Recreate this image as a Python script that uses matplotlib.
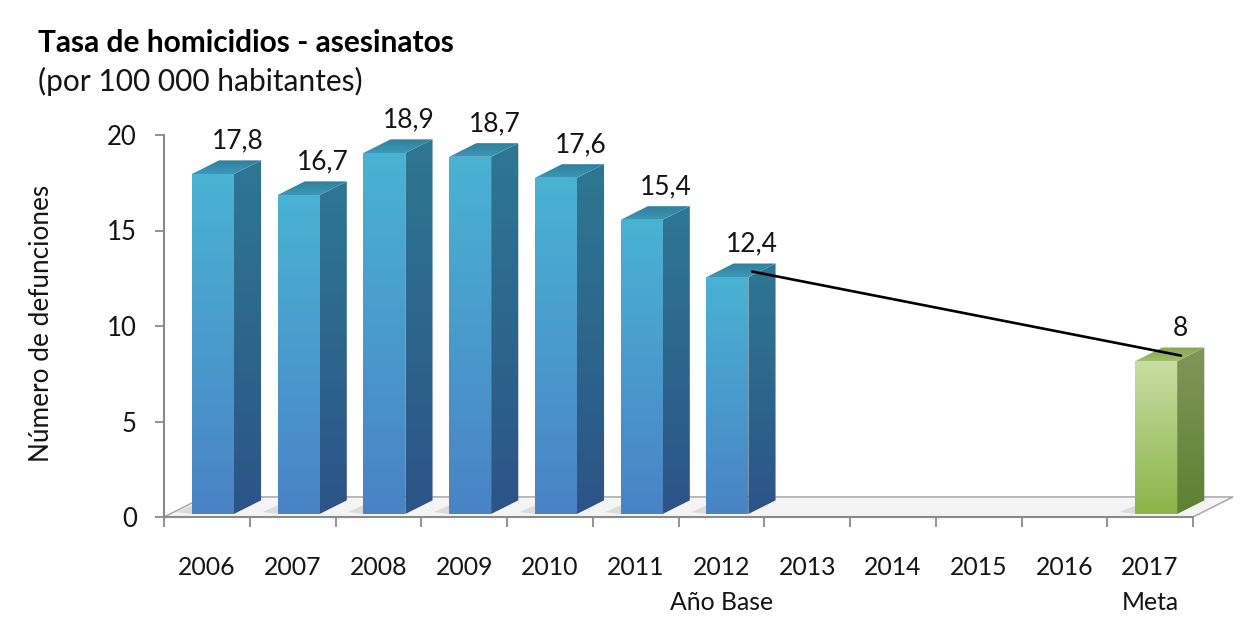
import numpy as np
import matplotlib
matplotlib.use('Agg')
import matplotlib.pyplot as plt
from matplotlib.patches import Polygon
from matplotlib.colors import to_rgb

# ---------------- data ----------------
years = ['2006', '2007', '2008', '2009', '2010', '2011', '2012',
         '2013', '2014', '2015', '2016', '2017']
year_notes = ['', '', '', '', '', '', 'Año Base', '', '', '', '', 'Meta']
rates = [17.8, 16.7, 18.9, 18.7, 17.6, 15.4, 12.4,
         np.nan, np.nan, np.nan, np.nan, 8.0]
rate_labels = ['17,8', '16,7', '18,9', '18,7', '17,6', '15,4', '12,4',
               '', '', '', '', '8']
is_goal = [False] * 11 + [True]
yticks = [0, 5, 10, 15, 20]
title = 'Tasa de homicidios - asesinatos'
subtitle = '(por 100 000 habitantes)'
ylabel = 'Número de defunciones'
base_year, goal_year = '2012', '2017'

# ---------------- style ----------------
plt.rcParams['font.family'] = ['Lato', 'DejaVu Sans']
TXT = '#141414'
AXC = '#8a8a8a'
W, H = 1241, 641
fig = plt.figure(figsize=(W / 100, H / 100), dpi=100)

x_left_px, cat_px, y0_px, val_px = 164, 85.75, 517, 19.1
xlim = (-0.5, 12.0)
ylim = (0, 20.6)
ax = fig.add_axes([x_left_px / W, (H - y0_px) / H,
                   (xlim[1] - xlim[0]) * cat_px / W,
                   (ylim[1] - ylim[0]) * val_px / H])
ax.set_facecolor('none')

# 3D depth (in data units)
DX, DY = 0.466, 1.05
f0, f1 = 0.15, 0.83
bar_w = 0.49

blue = dict(front=('#4AB2D3', '#4983C6'), side=('#2E7793', '#2C5487'),
            top=('#3D98B8', '#2F7F9D'))
green = dict(front=('#C8DDA2', '#8BB449'), side=('#80965A', '#5E8131'),
             top=('#A2BE6A', '#88A452'))


def grad_face(verts, c_a, c_b, z, horiz=False):
    poly = Polygon(verts, closed=True, facecolor='none', edgecolor='none')
    ax.add_patch(poly)
    xs = [v[0] for v in verts]
    ys = [v[1] for v in verts]
    t = np.linspace(0, 1, 64)
    ca, cb = np.array(to_rgb(c_a)), np.array(to_rgb(c_b))
    col = cb + (ca - cb) * t[:, None]   # t=0 -> c_b (bottom/left)
    if horiz:
        img = col[None, :, :].repeat(2, axis=0)
    else:
        img = col[:, None, :].repeat(2, axis=1)
    im = ax.imshow(img, extent=(min(xs), max(xs), min(ys), max(ys)),
                   origin='lower', aspect='auto', interpolation='bilinear',
                   zorder=z)
    im.set_clip_path(poly)


# floor
n = len(years)
floor = Polygon([(-0.5, 0), (n - 0.5, 0), (n - 0.5 + DX, DY), (-0.5 + DX, DY)],
                closed=True, facecolor='#f4f4f4', edgecolor='#a8a8a8',
                linewidth=1.1, zorder=1)
ax.add_patch(floor)

ddx, ddy = (f1 - f0) * DX, (f1 - f0) * DY
for i, v in enumerate(rates):
    if np.isnan(v):
        continue
    pal = green if is_goal[i] else blue
    xl = i + f0 * DX - bar_w / 2
    xr = xl + bar_w
    yb = f0 * DY
    yt = v + f0 * DY
    # soft shadow on floor
    sh = Polygon([(xl - 0.18, yb + 0.1), (xl, yb), (xr + ddx, yb + ddy),
                  (xl - 0.18 + ddx, yb + ddy)], closed=True,
                 facecolor='#c8c8c8', edgecolor='none', alpha=0.55, zorder=2)
    ax.add_patch(sh)
    grad_face([(xl, yb), (xr, yb), (xr, yt), (xl, yt)],
              pal['front'][0], pal['front'][1], 3)
    grad_face([(xr, yb), (xr + ddx, yb + ddy), (xr + ddx, yt + ddy), (xr, yt)],
              pal['side'][0], pal['side'][1], 3)
    grad_face([(xl, yt), (xr, yt), (xr + ddx, yt + ddy), (xl + ddx, yt + ddy)],
              pal['top'][1], pal['top'][0], 3)
    ax.text(i + f0 * DX + 0.9 * ddx, yt + ddy + 0.62, rate_labels[i],
            ha='center', va='baseline', fontsize=19, color=TXT, zorder=6)

# trend line from base year to goal
ib, ig = years.index(base_year), years.index(goal_year)
LDX, LDY = 0.36, 0.45
ax.plot([ib + LDX, ig + LDX], [rates[ib] + LDY, rates[ig] + LDY],
        color='black', linewidth=1.9, zorder=5, solid_capstyle='round')

# axes
for s in ['top', 'right']:
    ax.spines[s].set_visible(False)
for s in ['left', 'bottom']:
    ax.spines[s].set_color(AXC)
    ax.spines[s].set_linewidth(1.5)
    ax.spines[s].set_zorder(4)
ax.spines['left'].set_bounds(0, 20)
ax.spines['bottom'].set_bounds(-0.5, n - 0.5)

ax.set_yticks(yticks)
ax.set_yticklabels([str(t) for t in yticks])
ax.tick_params(axis='y', length=6.5, width=1.3, color=AXC, pad=13,
               labelsize=18.5, labelcolor=TXT)
ax.set_xticks(range(n))
ax.set_xticklabels([y + ('\n' + s if s else '') for y, s in zip(years, year_notes)],
                   linespacing=1.62)
ax.set_xticks(np.arange(-0.5, n, 1.0), minor=True)
ax.tick_params(axis='x', which='major', length=0, pad=28,
               labelsize=17.8, labelcolor=TXT)
ax.tick_params(axis='x', which='minor', length=7.2, width=1.3, color=AXC)

ax.set_ylabel(ylabel, fontsize=18.8, color=TXT)
ax.yaxis.set_label_coords((54 - x_left_px) / ((xlim[1] - xlim[0]) * cat_px),
                          (y0_px - 323) / ((ylim[1] - ylim[0]) * val_px))

ax.set_xlim(*xlim)
ax.set_ylim(*ylim)

fig.text(38 / W, 1 - 43 / H, title, fontsize=21.5, fontweight='bold',
         color='black', ha='left', va='center')
fig.text(38 / W, 1 - 81 / H, subtitle, fontsize=21.5, color=TXT,
         ha='left', va='center')

fig.savefig('out.png', dpi=100, facecolor='white')
